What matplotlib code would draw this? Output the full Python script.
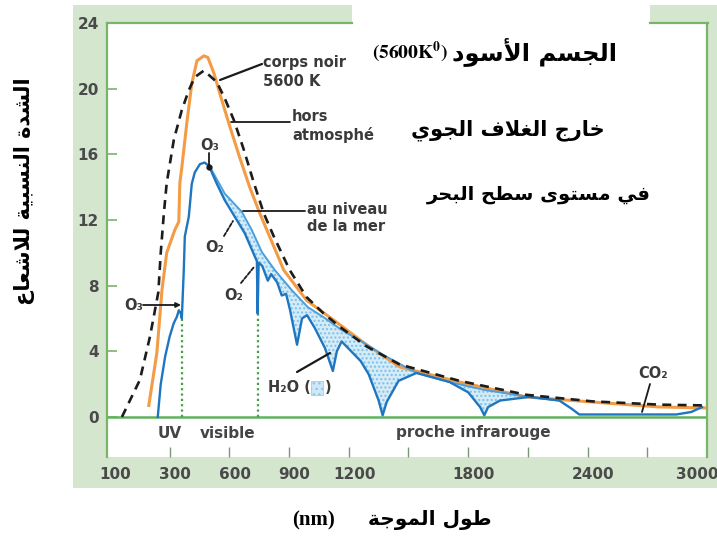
import numpy as np
import matplotlib
matplotlib.use('Agg')
import matplotlib.pyplot as plt
from matplotlib.patches import Rectangle
from matplotlib.lines import Line2D
from matplotlib.transforms import ScaledTranslation

W, H = 717, 538

# ---------------- data ----------------
# corps noir 5600 K (dashed black)
bb_wl = [140, 200, 234, 262, 270, 280, 290, 321, 361, 396, 426, 472, 537, 577,
         622, 672, 722, 773, 823, 903, 988, 1074, 1154, 1289, 1455, 1756, 2092,
         2423, 2759, 3000]
bb_val = [0, 2.25, 4.9, 7.6, 10.0, 12.3, 14.25, 16.9, 18.7, 19.9, 20.7, 21.1,
          20.4, 19.4, 18.1, 16.3, 14.3, 12.4, 11.0, 8.95, 7.3, 6.3, 5.5, 4.3,
          3.2, 2.2, 1.35, 0.95, 0.75, 0.7]

# hors atmosphere (orange)
out_wl = [230, 257, 274, 290, 326, 346, 351, 361, 386, 411, 437, 472, 492, 522,
          562, 602, 652, 702, 753, 788, 873, 988, 1124, 1289, 1455, 1756, 2092,
          2423, 2759, 2990]
out_val = [0.7, 3.9, 7.7, 10.0, 11.4, 11.9, 14.25, 15.2, 17.9, 20.3, 21.7, 22.0,
           21.9, 20.95, 19.3, 17.7, 15.8, 14.0, 12.4, 11.4, 8.95, 7.1, 5.9, 4.4,
           3.05, 2.13, 1.22, 0.91, 0.61, 0.55]

# au niveau de la mer (blue, with absorption bands)
sea_wl = [260, 270, 285, 300, 320, 336, 346, 356, 361, 366, 371, 376, 396, 411,
          426, 452, 475, 497, 537, 577, 627, 677, 727, 738, 742, 747, 765, 793,
          810, 840, 863, 885, 905, 940, 965, 990, 1030, 1080, 1120, 1140, 1164,
          1204, 1260, 1300, 1350, 1370, 1390, 1450, 1540, 1706, 1800, 1860, 1881,
          1900, 1960, 2107, 2258, 2320, 2358, 2845, 2920, 2975]
sea_val = [0, 2.0, 3.7, 4.9, 5.7, 6.1, 6.5, 6.3, 6.0, 7.5, 9.0, 11.0, 12.2, 14.2,
           14.9, 15.4, 15.5, 15.3, 14.2, 13.2, 12.2, 11.2, 9.8, 9.5, 6.3, 9.4,
           9.2, 8.3, 8.7, 8.2, 7.4, 7.5, 6.5, 4.4, 6.0, 6.2, 5.4, 4.2, 2.8, 4.0,
           4.6, 4.1, 3.4, 2.6, 1.0, 0.1, 0.9, 2.2, 2.68, 2.13, 1.5, 0.6, 0.1,
           0.6, 1.0, 1.22, 1.0, 0.5, 0.15, 0.15, 0.3, 0.6]

# sea level without water-vapour absorption (upper edge of the H2O areas)
env_wl = [497, 577, 662, 712, 763, 828, 913, 993, 1079, 1164, 1264, 1370, 1540,
          1706, 1880, 2107, 2258]
env_val = [15.35, 13.6, 12.5, 11.4, 10.05, 8.95, 7.73, 6.7, 6.03, 5.3, 4.6, 3.8,
           2.68, 2.13, 1.65, 1.22, 1.0]

# absorption markers (dotted green verticals): O3 and O2
band_wl = [361, 742]
band_top = [6.0, 6.3]

x_label_ticks = [100, 300, 600, 900, 1200, 1800, 2400, 3000]
x_minor_ticks = [300, 600, 900, 1200, 1500, 1800, 2100, 2400, 2700]
y_ticks = [0, 4, 8, 12, 16, 20, 24]

# ---------------- Arabic shaping (presentation forms) ----------------
AR = {
    'ا': ('\uFE8D', '\uFE8E', None, None), 'أ': ('\uFE83', '\uFE84', None, None),
    'ب': ('\uFE8F', '\uFE90', '\uFE91', '\uFE92'), 'ت': ('\uFE95', '\uFE96', '\uFE97', '\uFE98'),
    'ة': ('\uFE93', '\uFE94', None, None), 'ج': ('\uFE9D', '\uFE9E', '\uFE9F', '\uFEA0'),
    'ح': ('\uFEA1', '\uFEA2', '\uFEA3', '\uFEA4'), 'خ': ('\uFEA5', '\uFEA6', '\uFEA7', '\uFEA8'),
    'د': ('\uFEA9', '\uFEAA', None, None), 'ر': ('\uFEAD', '\uFEAE', None, None),
    'س': ('\uFEB1', '\uFEB2', '\uFEB3', '\uFEB4'), 'ش': ('\uFEB5', '\uFEB6', '\uFEB7', '\uFEB8'),
    'ط': ('\uFEC1', '\uFEC2', '\uFEC3', '\uFEC4'), 'ع': ('\uFEC9', '\uFECA', '\uFECB', '\uFECC'),
    'غ': ('\uFECD', '\uFECE', '\uFECF', '\uFED0'), 'ف': ('\uFED1', '\uFED2', '\uFED3', '\uFED4'),
    'ل': ('\uFEDD', '\uFEDE', '\uFEDF', '\uFEE0'), 'م': ('\uFEE1', '\uFEE2', '\uFEE3', '\uFEE4'),
    'ن': ('\uFEE5', '\uFEE6', '\uFEE7', '\uFEE8'), 'و': ('\uFEED', '\uFEEE', None, None),
    'ى': ('\uFEEF', '\uFEF0', None, None), 'ي': ('\uFEF1', '\uFEF2', '\uFEF3', '\uFEF4'),
}
LAM_ALEF = {'ا': ('\uFEFB', '\uFEFC'), 'أ': ('\uFEF7', '\uFEF8')}


def shape_arabic(s):
    toks, i = [], 0
    while i < len(s):
        if s[i] == 'ل' and i + 1 < len(s) and s[i + 1] in LAM_ALEF:
            toks.append(('LA', s[i + 1])); i += 2
        else:
            toks.append(('C', s[i])); i += 1

    def joins_next(t):
        return t[0] == 'C' and t[1] in AR and AR[t[1]][2] is not None

    def is_ar(t):
        return t[0] == 'LA' or t[1] in AR

    out = []
    for k, t in enumerate(toks):
        prev = k > 0 and joins_next(toks[k - 1])
        if t[0] == 'LA':
            out.append(LAM_ALEF[t[1]][1 if prev else 0]); continue
        f = AR.get(t[1])
        if f is None:
            out.append(t[1]); continue
        nxt = f[2] is not None and k + 1 < len(toks) and is_ar(toks[k + 1])
        out.append(f[3] if (prev and nxt) else f[1] if prev else f[2] if nxt else f[0])
    return ''.join(reversed(out))


# ---------------- x scale: 100-300 stretched, linear above ----------------
_wk = np.array([-1000.0, 100.0, 300.0, 10000.0])
_uk = np.array([-5.5, 0.0, 1.0, 1.0 + 9700.0 / 300.0])


def fwd(w):
    return np.interp(w, _wk, _uk)


def inv(u):
    return np.interp(u, _uk, _wk)


# ---------------- colours / fonts ----------------
BAND = '#d5e6ce'
SPINE = '#78b46a'
ZERO = '#5fb35a'
ORANGE = '#f39c45'
BLUE = '#1f76c0'
BLUE2 = '#4a9fdc'
TXT = '#3a3a3a'
LAB = ['Liberation Sans Narrow', 'DejaVu Sans']

fig = plt.figure(figsize=(W / 100, H / 100), dpi=100, facecolor='white')

# green frame behind the plot
fig.add_artist(Rectangle((73 / W, 1 - 488 / H), (W - 73) / W, (488 - 5) / H,
                         transform=fig.transFigure, facecolor=BAND, edgecolor='none', zorder=-10))
fig.add_artist(Rectangle((352 / W, 1 - 23 / H), (650 - 352) / W, 23 / H,
                         transform=fig.transFigure, facecolor='white', edgecolor='none', zorder=-9))

ax = fig.add_axes([107 / W, 1 - 457 / H, 600 / W, 434 / H])
ax.set_facecolor('white')
ax.set_xscale('function', functions=(fwd, inv))
ax.set_xlim(90, 3000)
ax.set_ylim(-2.44, 24)
ax.xaxis.remove_overlapping_locs = False

for s in ['top', 'bottom']:
    ax.spines[s].set_visible(False)
for s in ['left', 'right']:
    ax.spines[s].set_color(SPINE)
    ax.spines[s].set_linewidth(1.6)

# top border (interrupted by the white text box)
for x0, x1 in [(107, 352), (650, 708)]:
    fig.add_artist(Line2D([x0 / W, x1 / W], [1 - 23 / H, 1 - 23 / H], transform=fig.transFigure,
                          color=SPINE, lw=1.6, zorder=3))

ax.axhline(0, color=ZERO, lw=1.8, zorder=2)

# ticks
ax.set_xticks(x_label_ticks)
ax.set_xticklabels([str(v) for v in x_label_ticks])
ax.set_xticks(x_minor_ticks, minor=True)
ax.tick_params(axis='x', which='major', length=0, pad=7, labelsize=11, labelcolor='#4a4a4a')
ax.tick_params(axis='x', which='minor', direction='in', length=7, width=1.0, color='#7d957a')
ax.set_yticks(y_ticks)
ax.tick_params(axis='y', which='major', direction='in', length=7, width=1.2, color=SPINE,
               pad=6, labelsize=11, labelcolor='#4a4a4a', right=False)
for lab in ax.get_xticklabels() + ax.get_yticklabels():
    lab.set_fontfamily(LAB)
    lab.set_fontweight('bold')
xt = ax.get_xticklabels()
for lab in xt[:-1]:
    lab.set_transform(lab.get_transform() + ScaledTranslation(4 / 72, 0, fig.dpi_scale_trans))
xt[-1].set_transform(xt[-1].get_transform() + ScaledTranslation(-7 / 72, 0, fig.dpi_scale_trans))

# H2O absorption areas
grid = np.array(sorted(set([w for w in env_wl] + [w for w in sea_wl if env_wl[0] <= w <= env_wl[-1]])), float)
env_i = np.interp(grid, env_wl, env_val)
sea_i = np.interp(grid, sea_wl, sea_val)
ax.fill_between(grid, sea_i, env_i, where=env_i > sea_i, interpolate=True,
                facecolor='#d4ebf8', edgecolor='#7cc0ea', hatch='....', lw=0, zorder=2)

# curves
ax.plot(out_wl, out_val, color=ORANGE, lw=2.2, zorder=3, solid_joinstyle='round')
ax.plot(env_wl, env_val, color=BLUE2, lw=1.4, zorder=4)
ax.plot(sea_wl, sea_val, color=BLUE, lw=1.7, zorder=5, solid_joinstyle='round')
ax.plot(bb_wl, bb_val, color='#1c1c1c', lw=1.9, ls=(0, (3.4, 2.4)), zorder=6)
ax.vlines(band_wl, 0, band_top, colors='#46a046', linestyles=(0, (1, 1.4)), lw=1.6, zorder=4)


# ---------------- annotations (figure pixel positions) ----------------
def ftext(x, y, s, **kw):
    return fig.text(x / W, 1 - y / H, s, **kw)


def leader(x1, y1, x2, y2, **kw):
    props = dict(arrowstyle='-', color='#1a1a1a', lw=1.3, shrinkA=0, shrinkB=0)
    props.update(kw)
    ax.annotate('', xy=(x2, H - y2), xytext=(x1, H - y1), xycoords='figure pixels',
                textcoords='figure pixels', arrowprops=props, zorder=8)


ann = dict(family=LAB, fontweight='bold', color=TXT, fontsize=10.5)
ftext(263, 72, 'corps noir\n5600 K', ha='left', va='center', linespacing=1.25, **ann)
leader(220, 80, 262, 64, lw=1.6)
ftext(292, 126, 'hors\natmosphé', ha='left', va='center', linespacing=1.25, **ann)
leader(231, 122, 290, 122)
ftext(307, 218, 'au niveau\nde la mer', ha='left', va='center', linespacing=1.2, **ann)
leader(243, 211, 305, 211)
ftext(210, 146, 'O₃', ha='center', va='center', **ann)
leader(209, 153, 209, 167)
fig.add_artist(Line2D([209 / W], [1 - 167 / H], marker='o', ms=3.5, color='#1a1a1a',
                      transform=fig.transFigure, zorder=9))
ftext(215, 247, 'O₂', ha='center', va='center', **ann)
leader(224, 236, 233, 221, linestyle=(0, (2, 1)))
ftext(234, 295, 'O₂', ha='center', va='center', **ann)
leader(241, 283, 254, 267, linestyle=(0, (2, 1)))
ftext(134, 305, 'O₃', ha='center', va='center', **ann)
leader(143, 305, 181, 305, arrowstyle='-|>', mutation_scale=7)
ftext(268, 388, 'H₂O (', ha='left', va='center', **ann)
ftext(325, 388, ')', ha='left', va='center', **ann)
fig.add_artist(Rectangle((311 / W, 1 - 395 / H), 12 / W, 14 / H, transform=fig.transFigure,
                         facecolor='#cfe8f8', edgecolor='#8cc8ee', hatch='...', lw=0.5, zorder=9))
leader(297, 372, 330, 353, lw=1.6)
ftext(653, 374, 'CO₂', ha='center', va='center', **ann)
leader(650, 384, 642, 412)

sub = dict(family=LAB, fontweight='bold', color='#444444', fontsize=11)
ftext(170, 433, 'UV', ha='center', va='center', **sub)
ftext(228, 433, 'visible', ha='center', va='center', **sub)
ftext(473, 433, 'proche infrarouge', ha='center', va='center', **sub)

# Arabic captions
arab = dict(family='DejaVu Sans', fontweight='bold', color='black')
ftext(452, 52, shape_arabic('الجسم الأسود'), ha='left', va='center', fontsize=17.5, **arab)
ftext(448, 52, r'$\mathbf{(5600K^{0})}$', ha='right', va='center', fontsize=14,
      math_fontfamily='stix', color='black')
ftext(508, 130, shape_arabic('خارج الغلاف الجوي'), ha='center', va='center', fontsize=15, **arab)
ftext(539, 195, shape_arabic('في مستوى سطح البحر'), ha='center', va='center', fontsize=14, **arab)

# axis titles
ftext(25, 191, shape_arabic('الشدة النسبية للاشعاع'), ha='center', va='center', rotation=90,
      fontsize=15, **arab)
ftext(368, 520, shape_arabic('طول الموجة'), ha='left', va='center', fontsize=14.5, **arab)
ftext(335, 520, '(nm)', ha='right', va='center', fontsize=15, family='Liberation Serif',
      fontweight='bold', color='black')

fig.savefig('out.png', dpi=100, facecolor='white')
